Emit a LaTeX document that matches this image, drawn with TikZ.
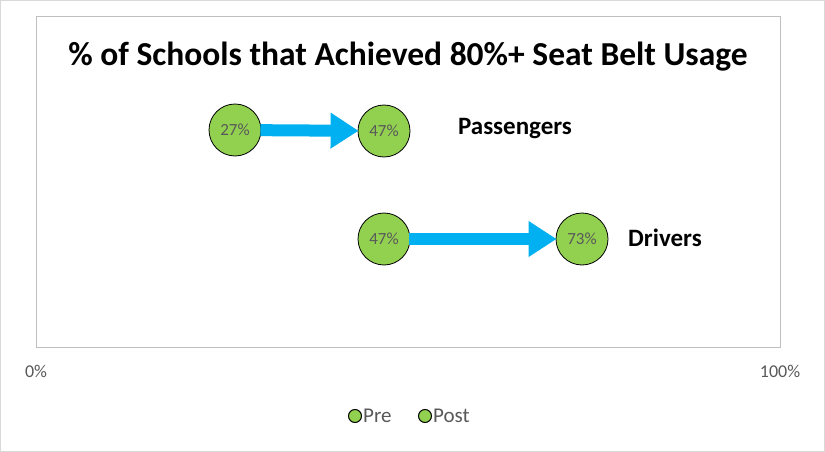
\documentclass[tikz,border=0pt]{standalone}
\usepackage{fontspec}
\setmainfont{Carlito}
\usetikzlibrary{arrows.meta}
\definecolor{dotg}{HTML}{92D050}
\definecolor{arrb}{HTML}{00B0F0}
\definecolor{txtg}{HTML}{595959}
\tikzset{
  dot/.style={circle,draw=black,line width=0.8pt,fill=dotg,minimum size=52pt,inner sep=0pt,font=\fontsize{17}{17}\selectfont,text=txtg},
  arr/.style={draw=arrb,line width=12pt,-{Triangle[length=28pt,width=34pt]},shorten <=-1pt, shorten >=-1pt},
  lab/.style={font=\bfseries\fontsize{25}{25}\selectfont,anchor=center},
  axl/.style={font=\fontsize{18}{18}\selectfont,text=txtg},
  ldot/.style={circle,draw=black,line width=1pt,fill=dotg,minimum size=13pt,inner sep=0pt}
}
\begin{document}
\begin{tikzpicture}[x=1pt,y=-1pt]
\draw[draw=black!15,fill=white,line width=1pt] (0.5,0.5) rectangle (824.5,451.5);
\useasboundingbox (0,0) rectangle (825,452);
\draw[draw=black!25,line width=1pt] (36,17) rectangle (780,347);
\node[font=\bfseries\fontsize{33.5}{33.5}\selectfont] (title) at (408,57) {\% of Schools that Achieved 80\%+ Seat Belt Usage};
\node[dot] (p1) at (235,130) {27\%};
\node[dot] (p2) at (384,131) {47\%};
\node[dot] (d1) at (384,239) {47\%};
\node[dot] (d2) at (582,239) {73\%};
\draw[arr] (p1) -- (p2);
\draw[arr] (d1) -- (d2);
\node[lab] (pl) at (515,129) {Passengers};
\node[lab] (dl) at (665,238) {Drivers};
\node[axl] (a0) at (36,371) {0\%};
\node[axl] (a1) at (780,371) {100\%};
\node[ldot] (l1) at (355,416) {};
\node[axl,anchor=west,font=\fontsize{21}{21}\selectfont,inner sep=1pt] (t1) at (l1.east) {Pre};
\node[ldot] (l2) at (425,416) {};
\node[axl,anchor=west,font=\fontsize{21}{21}\selectfont,inner sep=1pt] (t2) at (l2.east) {Post};
\end{tikzpicture}
\end{document}
